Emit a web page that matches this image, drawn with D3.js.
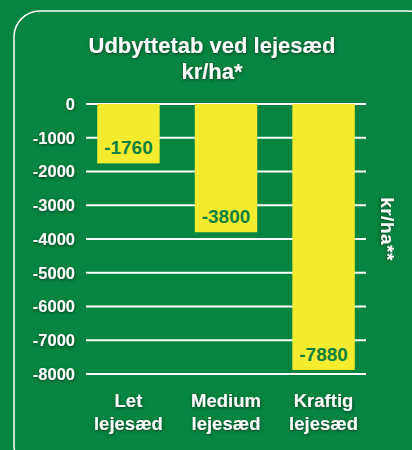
<!DOCTYPE html>
<html>
<head>
<meta charset="utf-8">
<script src="https://cdn.jsdelivr.net/npm/d3@7"></script>
<style>
  html, body { margin: 0; padding: 0; background: #05853f; }
  svg { display: block; }
  text { font-family: "Liberation Sans", Arial, Helvetica, sans-serif; font-weight: bold; }
</style>
</head>
<body>
<script>
// data
var categories = ["Let lejesæd", "Medium lejesæd", "Kraftig lejesæd"];
var values = [-1760, -3800, -7880];
var yTicks = [0, -1000, -2000, -3000, -4000, -5000, -6000, -7000, -8000];
var titleLines = ["Udbyttetab ved lejesæd", "kr/ha*"];
var rightLabel = "kr/ha**";

var width = 412;
var height = 450;

var svg = d3.select("body").append("svg")
	.attr("width", width)
	.attr("height", height);

var defs = svg.append("defs");
var shadow = defs.append("filter")
	.attr("id", "shadow")
	.attr("x", "-20%").attr("y", "-40%")
	.attr("width", "140%").attr("height", "180%");
shadow.append("feDropShadow")
	.attr("dx", 0.5).attr("dy", 1)
	.attr("stdDeviation", 1.5)
	.attr("flood-color", "#002a12")
	.attr("flood-opacity", 0.8);

// background
svg.append("rect")
	.attr("width", width)
	.attr("height", height)
	.attr("fill", "#05853f");

// panel
svg.append("rect")
	.attr("x", 14)
	.attr("y", 11)
	.attr("width", 420)
	.attr("height", 460)
	.attr("rx", 26)
	.attr("fill", "none")
	.attr("stroke", "#ffffff")
	.attr("stroke-width", 1.5);

var x = d3.scaleBand()
	.domain(categories)
	.range([86, 366])
	.paddingInner(0.36)
	.paddingOuter(0.115);

var y = d3.scaleLinear()
	.domain([-8000, 0])
	.range([374, 104]);

// grid lines
svg.append("g")
	.selectAll("line")
	.data(yTicks)
	.enter().append("line")
		.attr("x1", 86)
		.attr("x2", 366)
		.attr("y1", function(d) { return y(d); })
		.attr("y2", function(d) { return y(d); })
		.attr("stroke", "#ffffff")
		.attr("stroke-width", 2);

// tick labels
svg.append("g")
	.selectAll("text")
	.data(yTicks)
	.enter().append("text")
		.attr("x", 75)
		.attr("y", function(d) { return y(d); })
		.attr("dy", "0.36em")
		.attr("text-anchor", "end")
		.attr("fill", "#ffffff")
		.attr("font-size", 16.5)
		.attr("filter", "url(#shadow)")
		.text(function(d) { return d; });

// bars
svg.append("g")
	.selectAll("rect")
	.data(values)
	.enter().append("rect")
		.attr("x", function(d, i) { return x(categories[i]); })
		.attr("y", y(0))
		.attr("width", x.bandwidth())
		.attr("height", function(d) { return y(d) - y(0); })
		.attr("fill", "#f5ec30");

// value labels
svg.append("g")
	.selectAll("text")
	.data(values)
	.enter().append("text")
		.attr("x", function(d, i) { return x(categories[i]) + x.bandwidth() / 2; })
		.attr("y", function(d) { return y(d) - 9; })
		.attr("text-anchor", "middle")
		.attr("fill", "#0e8140")
		.attr("font-size", 19)
		.text(function(d) { return d; });

// category labels
var cat = svg.append("g")
	.selectAll("text")
	.data(categories)
	.enter().append("text")
		.attr("x", function(d) { return x(d) + x.bandwidth() / 2; })
		.attr("y", 407)
		.attr("text-anchor", "middle")
		.attr("fill", "#ffffff")
		.attr("font-size", 18.5)
		.attr("filter", "url(#shadow)");

cat.selectAll("tspan")
	.data(function(d) { return d.split(" "); })
	.enter().append("tspan")
		.attr("x", function() { return d3.select(this.parentNode).attr("x"); })
		.attr("dy", function(d, i) { return i == 0 ? 0 : 23; })
		.text(function(d) { return d; });

// title
svg.append("g")
	.selectAll("text")
	.data(titleLines)
	.enter().append("text")
		.attr("x", 212)
		.attr("y", function(d, i) { return 53 + i * 26; })
		.attr("text-anchor", "middle")
		.attr("fill", "#ffffff")
		.attr("font-size", 22)
		.attr("filter", "url(#shadow)")
		.text(function(d) { return d; });

// right axis label
svg.append("text")
	.attr("transform", "translate(381,229) rotate(90)")
	.attr("text-anchor", "middle")
	.attr("fill", "#ffffff")
	.attr("font-size", 19)
	.attr("letter-spacing", 0.5)
	.attr("filter", "url(#shadow)")
	.text(rightLabel);
</script>
</body>
</html>
